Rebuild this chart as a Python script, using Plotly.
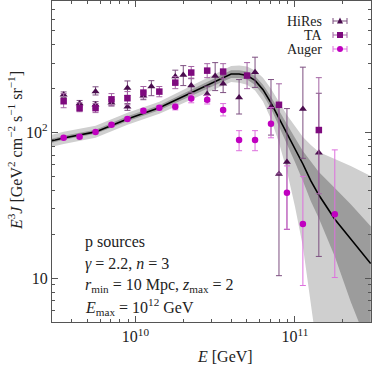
import plotly.graph_objects as go

# log10(E / GeV) and E^3 J values
hires_lgE = [9.55, 9.65, 9.75, 9.75, 9.85, 9.95, 9.95, 10.05, 10.10, 10.25, 10.30,
             10.35, 10.45, 10.50, 10.55, 10.65, 10.75, 10.85, 10.90, 10.95, 11.05, 11.15]
hires_J = [182, 158, 191, 155, 160, 202, 150, 179, 207, 242, 248,
           210, 184, 244, 216, 174, 259, 149, 51.8, 62.8, 145, 72.5]
hires_hi = [190, 166, 206, 163, 168, 226, 158, 190, 227, 268, 288,
            236, 208, 302, 248, 231, 329, 231, 155, 146, 281, 186]
hires_lo = [174, 150, 181, 147, 152, 180, 142, 168, 179, 218, 210,
            188, 163, 194, 188, 134, 204, 96, 10.4, 21.6, 66.5, 14.1]

ta_lgE = [9.55, 9.65, 9.75, 9.85, 9.95, 10.05, 10.15, 10.25, 10.35, 10.45, 10.55,
          10.70, 10.90, 11.15]
ta_J = [164, 147, 147, 169, 172, 188, 191, 220, 258, 266, 262, 246, 155, 104]
ta_hi = [185, 160, 158, 185, 191, 207, 207, 242, 284, 297, 297, 302, 216, 238]
ta_lo = [148, 139, 137, 153, 155, 173, 176, 200, 234, 238, 234, 200, 52, 38]

auger_lgE = [9.55, 9.65, 9.75, 9.85, 9.95, 10.05, 10.15, 10.25, 10.35, 10.45, 10.55,
             10.65, 10.75, 10.85, 10.95, 11.05, 11.25]
auger_J = [92, 93.4, 101, 113, 124, 141, 148, 150, 171, 168, 143,
           89, 89, 115, 38.6, 23.5, 27.5]
auger_hi = [94, 95.5, 103.5, 116, 127.5, 145.5, 153, 157, 183, 180, 158,
            103, 103, 148, 59, 50, 76]
auger_lo = [90, 91.3, 98.5, 110, 120.5, 136.5, 143, 143, 160, 157, 130,
            75, 75, 92, 21.7, 8.9, 10.1]

# model: best fit with 1 sigma (dark) and 2 sigma (light) bands
model_lgE = [9.475, 9.55, 9.75, 9.95, 10.15, 10.35, 10.55, 10.60, 10.65, 10.70, 10.75,
             10.80, 10.85, 10.90, 10.95, 11.00, 11.05, 11.10, 11.15, 11.25, 11.35, 11.475]
model_J = [87.7, 91.8, 101, 124, 148, 188, 238, 252, 252, 246, 228,
           197, 160, 126, 99.5, 78, 60.8, 46.5, 37.2, 25.4, 18.5, 12.6]
band2_hi = [96.4, 101.1, 111.2, 136.8, 162.8, 210, 270, 286, 289, 284, 267,
            238, 200, 163, 132, 111, 93.3, 82.2, 73.6, 65.9, 58.9, 50.2]
band2_lo = [79.7, 83.5, 91.9, 113, 134.5, 168, 210, 222, 220, 213, 194,
            163, 124, 84.9, 54.5, 31.2, 16.5, 6.9, 2.67, 1.0, 0.5, 0.2]
band1_hi = [90.6, 94.9, 104.4, 129.4, 154, 197, 252, 268, 268, 262, 244,
            213, 176, 141, 113, 91.9, 74.8, 62.8, 53.6, 41.6, 32.2, 22.7]
band1_lo = [84.9, 89.1, 98, 119.5, 142, 179, 225, 237, 237, 231, 212,
            182, 146, 111, 83.5, 62.8, 46.5, 33.8, 25.8, 14.1, 6.9, 3.1]

x_major = [1e10, 1e11]
x_major_text = ["10<sup>10</sup>", "10<sup>11</sup>"]
x_minor = [4e9, 5e9, 6e9, 7e9, 8e9, 9e9, 2e10, 3e10, 4e10, 5e10, 6e10, 7e10, 8e10, 9e10, 2e11]
y_major = [10, 100]
y_major_text = ["10", "10<sup>2</sup>"]
y_minor = [6, 7, 8, 9, 20, 30, 40, 50, 60, 70, 80, 90, 200, 300, 400, 500, 600, 700]

info_lines = [
    "p sources",
    "<i>γ</i> = 2.2, <i>n</i> = 3",
    "<i>r</i><sub>min</sub> = 10 Mpc, <i>z</i><sub>max</sub> = 2",
    "<i>E</i><sub>max</sub> = 10<sup>12</sup> GeV",
]

FONT = "Liberation Serif"
C_HIRES, C_HIRES_ERR = "#4a0c4e", "#7d4f80"
C_TA, C_TA_ERR = "#7e0a7e", "#a465a4"
C_AUGER, C_AUGER_ERR = "#c000c0", "#dd70dd"


def energies(lg):
    return [10 ** v for v in lg]


def errs(val, hi, lo):
    return dict(type="data", symmetric=False,
                array=[h - v for v, h in zip(val, hi)],
                arrayminus=[v - l for v, l in zip(val, lo)])


fig = go.Figure()
E_model = energies(model_lgE)

# 2 sigma band
fig.add_trace(go.Scatter(x=E_model, y=band2_hi, mode="lines", line=dict(width=0),
                         showlegend=False, hoverinfo="skip"))
fig.add_trace(go.Scatter(x=E_model, y=band2_lo, mode="lines", line=dict(width=0),
                         fill="tonexty", fillcolor="#cfcfcf", showlegend=False, hoverinfo="skip"))
# 1 sigma band
fig.add_trace(go.Scatter(x=E_model, y=band1_hi, mode="lines", line=dict(width=0),
                         showlegend=False, hoverinfo="skip"))
fig.add_trace(go.Scatter(x=E_model, y=band1_lo, mode="lines", line=dict(width=0),
                         fill="tonexty", fillcolor="#9c9c9c", showlegend=False, hoverinfo="skip"))
fig.add_trace(go.Scatter(x=E_model, y=model_J, mode="lines",
                         line=dict(color="black", width=1.6), showlegend=False))

for lg, val, hi, lo, col, ecol, sym, size in [
    (hires_lgE, hires_J, hires_hi, hires_lo, C_HIRES, C_HIRES_ERR, "triangle-up", 7),
    (ta_lgE, ta_J, ta_hi, ta_lo, C_TA, C_TA_ERR, "square", 6.5),
    (auger_lgE, auger_J, auger_hi, auger_lo, C_AUGER, C_AUGER_ERR, "circle", 6.5),
]:
    err = errs(val, hi, lo)
    err.update(color=ecol, thickness=1, width=3)
    fig.add_trace(go.Scatter(x=energies(lg), y=val, mode="markers",
                             marker=dict(symbol=sym, size=size, color=col),
                             error_y=err, showlegend=False))

# legend: label on the left, marker with error bar on the right
legend_items = [("HiRes", C_HIRES, C_HIRES_ERR, "tri"),
                ("TA", C_TA, C_TA_ERR, "sq"),
                ("Auger", C_AUGER, C_AUGER_ERR, "circ")]
px_w, px_h = 319.0, 321.0
for i, (label, col, ecol, kind) in enumerate(legend_items):
    yc = 1 - (20 + 14 * i) / px_h
    xc = (340 - 52) / px_w
    fig.add_annotation(x=(324 - 52) / px_w, y=yc, xref="paper", yref="paper",
                       text=label, showarrow=False, xanchor="right", yanchor="middle",
                       font=dict(family=FONT, size=14, color="#222"))
    hx, hy = 7 / px_w, 3 / px_h
    fig.add_shape(type="line", xref="paper", yref="paper", x0=xc - hx, x1=xc + hx,
                  y0=yc, y1=yc, line=dict(color=ecol, width=1))
    for s in (-1, 1):
        fig.add_shape(type="line", xref="paper", yref="paper", x0=xc + s * hx, x1=xc + s * hx,
                      y0=yc - hy, y1=yc + hy, line=dict(color=ecol, width=1))
    mx, my = 3 / px_w, 3 / px_h
    if kind == "sq":
        fig.add_shape(type="rect", xref="paper", yref="paper", x0=xc - mx, x1=xc + mx,
                      y0=yc - my, y1=yc + my, fillcolor=col, line=dict(width=0))
    elif kind == "circ":
        fig.add_shape(type="circle", xref="paper", yref="paper", x0=xc - mx, x1=xc + mx,
                      y0=yc - my, y1=yc + my, fillcolor=col, line=dict(width=0))
    else:
        path = (f"M {xc - mx} {yc - 2.5 / px_h} L {xc + mx} {yc - 2.5 / px_h} "
                f"L {xc} {yc + 3.5 / px_h} Z")
        fig.add_shape(type="path", xref="paper", yref="paper", path=path,
                      fillcolor=col, line=dict(width=0))

for i, line in enumerate(info_lines):
    fig.add_annotation(x=(83 - 52) / px_w, y=1 - (241 + 21.5 * i) / px_h,
                       xref="paper", yref="paper", text=line, showarrow=False,
                       xanchor="left", yanchor="middle",
                       font=dict(family=FONT, size=16, color="#222"))

# axis titles
fig.add_annotation(x=(225 - 52) / px_w, y=1 - 356 / px_h, xref="paper", yref="paper",
                   text="<i>E</i> [GeV]", showarrow=False, xanchor="center", yanchor="middle",
                   font=dict(family=FONT, size=16, color="#222"))
fig.add_annotation(x=(15 - 52) / px_w, y=1 - 150 / px_h, xref="paper", yref="paper",
                   text="<i>E</i><sup>3</sup><i>J</i> [GeV<sup>2</sup> cm<sup>−2</sup> s<sup>−1</sup> sr<sup>−1</sup>]",
                   textangle=-90, showarrow=False, xanchor="center", yanchor="middle",
                   font=dict(family=FONT, size=16, color="#222"))

axis_common = dict(type="log", showgrid=False, zeroline=False, showline=True,
                   linecolor="#555", linewidth=1.2, mirror="ticks", ticks="inside",
                   ticklen=6, tickcolor="#555", tickwidth=1,
                   tickfont=dict(family=FONT, size=16, color="#222"))
fig.update_xaxes(range=[9.477, 11.477], tickmode="array", tickvals=x_major,
                 ticktext=x_major_text,
                 minor=dict(tickmode="array", tickvals=x_minor, ticks="inside",
                            ticklen=3, tickcolor="#555"),
                 **axis_common)
fig.update_yaxes(range=[0.699, 2.903], tickmode="array", tickvals=y_major,
                 ticktext=y_major_text,
                 minor=dict(tickmode="array", tickvals=y_minor, ticks="inside",
                            ticklen=3, tickcolor="#555"),
                 **axis_common)

fig.update_layout(width=374, height=369, margin=dict(l=52, r=3, t=1, b=47),
                  plot_bgcolor="white", paper_bgcolor="white", showlegend=False)

fig.write_html("out.html", config={"displayModeBar": False},
               post_script="document.body.style.margin='0';")
